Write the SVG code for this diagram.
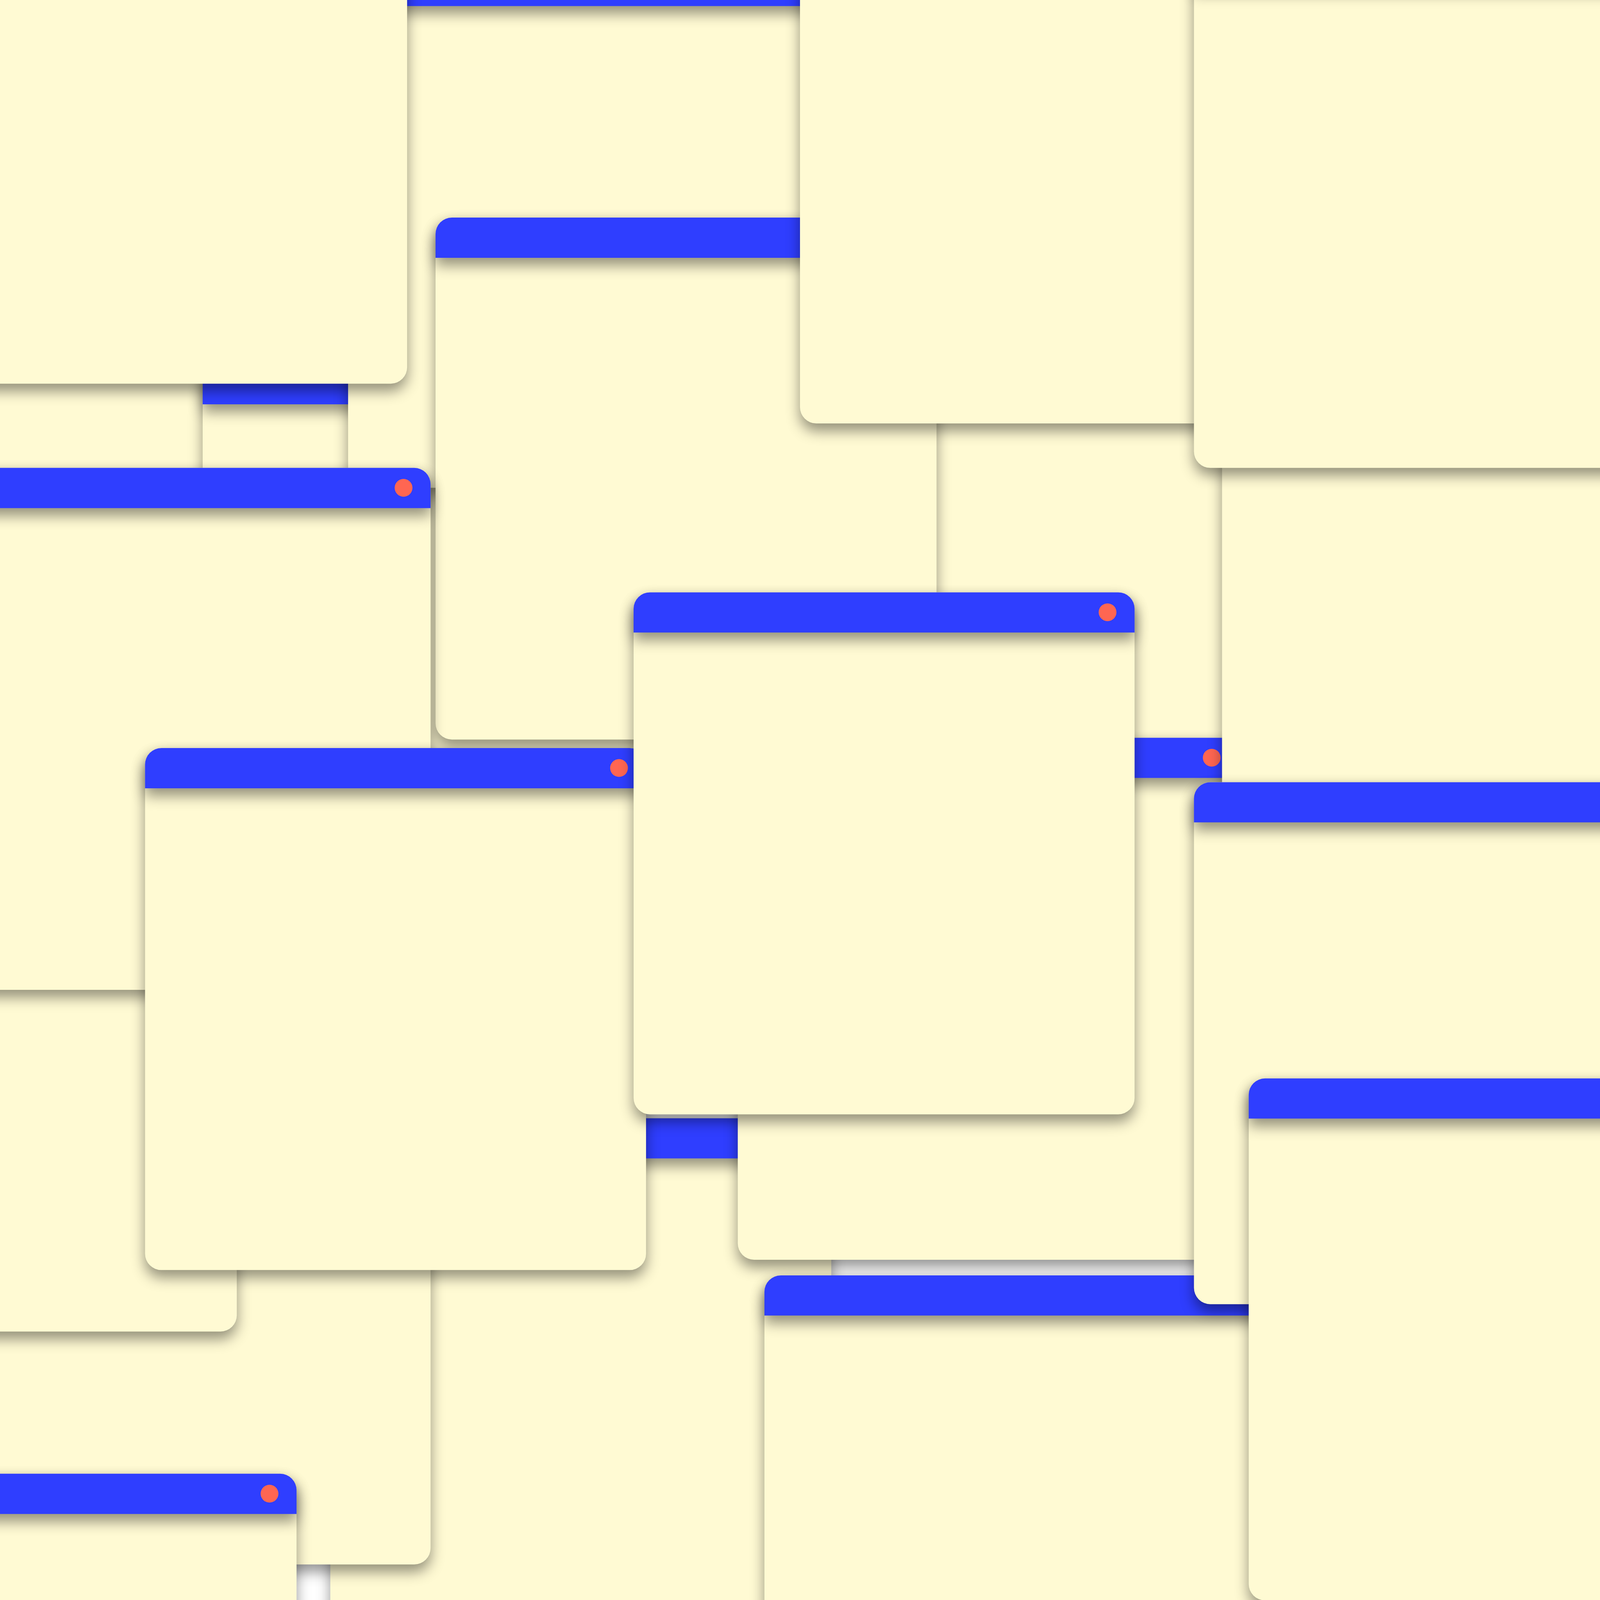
<svg xmlns="http://www.w3.org/2000/svg" xmlns:xlink="http://www.w3.org/1999/xlink" width="4500" height="4500" viewBox="0 0 4500 4500">
  <style>
    .body { fill: #FFFAD3; }
    .title { fill: #2F3EFF; }
    .dot { fill: #FF6652; }
  </style>
  <defs>
    <filter id="shadow" filterUnits="userSpaceOnUse" x="-150" y="-150" width="1710" height="1790" color-interpolation-filters="sRGB">
      <feDropShadow dx="0" dy="21" stdDeviation="19" flood-color="#000000" flood-opacity="0.42"/>
    </filter>
    <g id="window">
      <rect class="body" x="0" y="0" width="1409" height="1468" rx="46" ry="46" filter="url(#shadow)"/>
      <path class="title" d="M0,113 V46 A46,46 0 0 1 46,0 H1363 A46,46 0 0 1 1409,46 V113 Z" filter="url(#shadow)"/>
      <circle class="dot" cx="1333" cy="56" r="25"/>
    </g>
  </defs>
  <rect id="background" x="0" y="0" width="4500" height="4500" fill="#FFFFFF"/>
  <g id="scene" transform="scale(0.910222)">
    <rect x="0" y="0" width="4500" height="4500" fill="#FFFFFF"/>
    <g id="windows">
      <g id="win-t" transform="translate(1000,1100)"><use href="#window" xlink:href="#window"/></g>
      <g id="win-k" transform="translate(-800,0)"><use href="#window" xlink:href="#window"/></g>
      <g id="win-i" transform="translate(570,1024)"><use href="#window" xlink:href="#window"/></g>
      <g id="win-j" transform="translate(979,-96)"><use href="#window" xlink:href="#window"/></g>
      <g id="win-w1" transform="translate(-264,-389)"><use href="#window" xlink:href="#window"/></g>
      <g id="win-m" transform="translate(2300,800)"><use href="#window" xlink:href="#window"/></g>
      <g id="win-a" transform="translate(1225,612)"><use href="#window" xlink:href="#window"/></g>
      <g id="win-B" transform="translate(2250,-277)"><use href="#window" xlink:href="#window"/></g>
      <g id="win-p" transform="translate(929,3145)"><use href="#window" xlink:href="#window"/></g>
      <g id="win-o" transform="translate(2075,2075)"><use href="#window" xlink:href="#window"/></g>
      <g id="win-n" transform="translate(3437,900)"><use href="#window" xlink:href="#window"/></g>
      <g id="win-C" transform="translate(3358,-152)"><use href="#window" xlink:href="#window"/></g>
      <g id="win-r" transform="translate(-198,2932)"><use href="#window" xlink:href="#window"/></g>
      <g id="win-s" transform="translate(-743,2277)"><use href="#window" xlink:href="#window"/></g>
      <g id="win-b" transform="translate(-198,1316)"><use href="#window" xlink:href="#window"/></g>
      <g id="win-c" transform="translate(408,2104)"><use href="#window" xlink:href="#window"/></g>
      <g id="win-d" transform="translate(1782,1666)"><use href="#window" xlink:href="#window"/></g>
      <g id="win-g" transform="translate(2150,3587)"><use href="#window" xlink:href="#window"/></g>
      <g id="win-e" transform="translate(3358,2200)"><use href="#window" xlink:href="#window"/></g>
      <g id="win-f" transform="translate(3512,3033)"><use href="#window" xlink:href="#window"/></g>
      <g id="win-h" transform="translate(-575,4145)"><use href="#window" xlink:href="#window"/></g>
    </g>
    <g id="connectors"></g>
  </g>
</svg>
